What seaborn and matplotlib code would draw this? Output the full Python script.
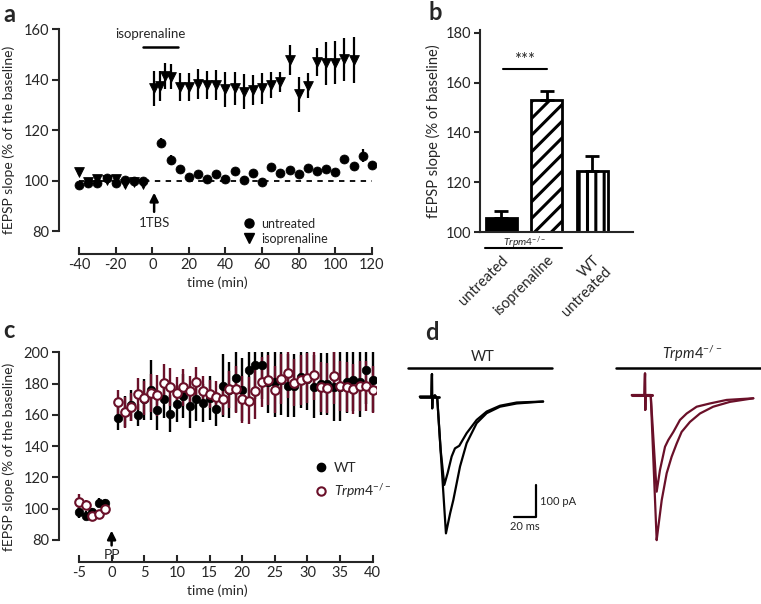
import numpy as np
import pandas as pd
import matplotlib
matplotlib.use('Agg')
import matplotlib.pyplot as plt
from matplotlib.lines import Line2D
import seaborn as sns

sns.set_style('ticks')
plt.rcParams['font.family'] = ['Lato', 'DejaVu Sans']
plt.rcParams['mathtext.fontset'] = 'custom'
plt.rcParams['mathtext.rm'] = 'Lato'
plt.rcParams['mathtext.it'] = 'Lato:italic'
plt.rcParams['hatch.linewidth'] = 2.2
plt.rcParams['axes.unicode_minus'] = False

MAROON = '#6a1029'
W, H = 761, 604

# ---- panel a: Trpm4-/- LTP, untreated vs isoprenaline ----
a_untreated_t = [-40, -35, -30, -25, -20, -15, -10, -5, 5, 10, 15, 20, 25, 30, 35, 40,
                 45, 50, 55, 60, 65, 70, 75, 80, 85, 90, 95, 100, 105, 110, 115, 120]
a_untreated_val = [98.1, 99.1, 99.0, 100.9, 99.2, 100.4, 100.0, 100.0, 114.9, 108.0, 104.5,
                   101.4, 102.5, 100.5, 102.4, 100.8, 103.8, 100.4, 103.0, 99.5, 105.4, 102.8,
                   104.1, 102.5, 105.0, 103.7, 104.7, 103.4, 108.7, 105.7, 109.8, 106.3]
a_untreated_err = [1.0, 0.8, 1.0, 1.0, 1.0, 1.0, 0.8, 0.8, 1.8, 2.0, 1.2, 1.0, 1.0, 1.0, 1.0,
                   1.5, 1.2, 1.5, 1.0, 1.5, 1.0, 1.0, 1.0, 1.0, 1.0, 1.0, 1.0, 1.0, 1.2, 1.2, 2.5, 1.0]
a_iso_t = [-40, -35, -30, -25, -20, -15, -10, -5, 1, 4, 7, 10, 15, 20, 25, 30, 35, 40, 45, 50,
           55, 60, 65, 70, 75, 80, 85, 90, 95, 100, 105, 110]
a_iso_val = [103.2, 99.5, 100.8, 100.3, 100.8, 98.6, 99.6, 98.8, 136.5, 137.4, 141.4, 141.1,
             137.1, 137.1, 138.2, 137.8, 137.8, 136.1, 136.5, 135.2, 135.8, 136.5, 137.8, 139.1,
             147.7, 134.2, 137.5, 147.0, 146.4, 146.6, 148.0, 147.7]
a_iso_err = [1.0, 1.0, 1.0, 1.0, 1.0, 1.5, 1.0, 1.0, 7.0, 6.0, 5.0, 5.0, 5.5, 5.5, 6.0, 5.5,
             6.0, 7.0, 6.5, 7.0, 6.0, 6.0, 5.0, 4.0, 6.0, 7.0, 5.0, 5.5, 8.5, 8.5, 8.5, 9.0]

# ---- panel b: bar summary ----
b_groups = ['untreated', 'isoprenaline', 'WT\nuntreated']
b_mean = [105.6, 153.0, 124.6]
b_sem = [2.9, 3.8, 6.0]

# ---- panel c: WT vs Trpm4-/- ----
c_t = [-5, -4, -3, -2, -1] + list(range(1, 41))
c_wt = [98.1, 95.6, 97.7, 103.9, 103.5,
        158.2, 162.0, 166.0, 160.1, 170.0, 175.9, 163.1, 169.9, 160.8, 167.2,
        172.1, 165.9, 170.1, 167.6, 170.8, 163.9, 178.7, 176.0, 183.6, 176.1,
        188.7, 192.1, 192.1, 181.0, 180.8, 182.0, 178.7, 178.7, 184.2, 183.0,
        178.0, 179.7, 179.7, 178.0, 178.0, 181.2, 182.3, 180.8, 188.7, 182.1]
c_wt_err = [4, 3, 3, 3, 3,
            8, 10, 10, 7, 13, 19, 13, 12, 12, 12, 14, 14, 14, 12, 14, 11, 20, 18, 22, 20,
            22, 22, 22, 20, 22, 22, 20, 20, 20, 20, 20, 20, 20, 22, 22, 20, 20, 22, 22, 20]
c_ko = [104.1, 102.6, 95.4, 96.4, 99.8,
        168.0, 161.6, 164.8, 173.3, 170.8, 174.0, 172.5, 180.4, 177.8, 174.0,
        177.6, 175.0, 180.8, 175.0, 173.3, 171.6, 170.1, 176.3, 176.5, 169.9,
        168.9, 175.3, 180.8, 182.3, 176.1, 183.2, 186.6, 180.4, 182.3, 183.6,
        185.7, 178.0, 177.0, 184.8, 178.7, 178.0, 176.5, 178.7, 178.7, 176.1]
c_ko_err = [5, 3, 3, 3, 3,
            8, 10, 9, 10, 11, 12, 13, 12, 12, 10, 12, 10, 10, 10, 9, 10, 10, 12, 15, 15,
            15, 18, 16, 16, 15, 16, 16, 15, 16, 16, 16, 16, 16, 18, 16, 16, 16, 16, 16, 15]

# ---- panel d: example EPSC traces (ms, pA) ----
d_wt_big_t = [-11, -0.5, 0, 0.2, 0.5, 2.7, 4.8, 8.8, 12.7, 16.5, 19.4, 25.5, 31.5, 40.6, 49.7, 61.8, 77, 101]
d_wt_big_i = [0, 0, 70, -36, 0, 4, -5, -216, -423, -361, -320, -216, -144, -82, -51, -31, -21, -15]
d_wt_small_t = [-11, -0.5, 0, 0.2, 0.5, 2.7, 4.8, 7.9, 11.2, 14.2, 17.9, 20.9, 24.8, 31.5, 40.6, 49.7, 61.8, 77, 101]
d_wt_small_i = [0, 0, 70, -36, 0, 4, -5, -165, -273, -237, -185, -160, -152, -113, -72, -46, -28, -18, -15]
d_ko_big_t = [-12, -0.5, 0, 0.2, 0.5, 5.2, 10.6, 12.1, 15.2, 19.7, 24.2, 28.8, 33.3, 40.9, 50, 62, 77.3, 98.5]
d_ko_big_i = [0, 0, 67, -46, 0, 0, -449, -408, -325, -242, -191, -150, -114, -83, -57, -36, -21, -10]
d_ko_small_t = [-12, -0.5, 0, 0.2, 0.5, 5.2, 10.6, 13.6, 18.2, 21.2, 25.8, 31.8, 37.9, 47, 59, 74.3, 98.5]
d_ko_small_i = [0, 0, 67, -46, 0, 0, -299, -232, -160, -139, -114, -77, -57, -36, -26, -15, -10]

KO_MATH = r'$\mathit{Trpm4}^{-/-}$'
ARROW = dict(arrowstyle='-|>,head_width=0.25,head_length=0.5', color='k', lw=1.8,
             shrinkA=0, shrinkB=0)


def px_axes(fig, left, top, right, bottom):
    return fig.add_axes([left / W, 1 - bottom / H, (right - left) / W, (bottom - top) / H])


fig = plt.figure(figsize=(W / 100, H / 100), dpi=100)
fig.patch.set_facecolor('white')

# ================= panel a =================
ax = px_axes(fig, 59, 25, 375.5, 254)
ax.set_xlim(-51, 122)
ax.set_ylim(70.9, 161.6)
ax.axhline(100, xmin=(-40 + 51) / 173, xmax=(120 + 51) / 173, color='k', ls=(0, (3, 3)), lw=1.3)
ax.errorbar(a_iso_t, a_iso_val, yerr=a_iso_err, fmt='none', ecolor='k', elinewidth=1.6, capsize=0)
ax.errorbar(a_untreated_t, a_untreated_val, yerr=a_untreated_err, fmt='none', ecolor='k',
            elinewidth=1.6, capsize=0)
df_a_iso = pd.DataFrame({'t': a_iso_t, 'v': a_iso_val})
df_a_unt = pd.DataFrame({'t': a_untreated_t, 'v': a_untreated_val})
sns.scatterplot(data=df_a_iso, x='t', y='v', marker='v', s=50, color='k', edgecolor='k', ax=ax, zorder=3)
sns.scatterplot(data=df_a_unt, x='t', y='v', marker='o', s=42, color='k', edgecolor='k', ax=ax, zorder=4)
ax.plot([-5, 14], [153, 153], color='k', lw=1.8)
ax.text(-1, 155.5, 'isoprenaline', ha='center', va='bottom', fontsize=9.5)
ax.annotate('', xy=(1, 95.2), xytext=(1, 87.6), arrowprops=ARROW)
ax.text(1, 83, '1TBS', ha='center', va='center', fontsize=9.5)
handles = [Line2D([], [], marker='o', ls='none', color='k', markersize=6.5),
           Line2D([], [], marker='v', ls='none', color='k', markersize=6.5)]
ax.legend(handles, ['untreated', 'isoprenaline'], loc='center left', bbox_to_anchor=(0.545, 0.1),
          frameon=False, fontsize=9, handlelength=1.0, handletextpad=0.5, labelspacing=0.25)
for s in ['top', 'right']:
    ax.spines[s].set_visible(False)
ax.spines['left'].set_bounds(80, 160)
ax.spines['bottom'].set_bounds(-40, 120)
ax.spines['left'].set_linewidth(1.5)
ax.spines['bottom'].set_linewidth(1.5)
ax.set_yticks([80, 100, 120, 140, 160])
ax.set_xticks(range(-40, 121, 20))
ax.tick_params(axis='y', direction='out', length=5, width=1.5, labelsize=10.5, pad=2)
ax.tick_params(axis='x', direction='in', length=5, width=1.5, labelsize=10.5, pad=3)
ax.set_xlabel('time (min)', fontsize=10, labelpad=3)
ax.set_ylabel('fEPSP slope (% of the baseline)', fontsize=10, labelpad=6)
fig.text(3 / W, 1 - 14 / H, 'a', fontsize=17, fontweight='bold', va='center', ha='left')

# ================= panel b =================
axb = px_axes(fig, 480, 30.2, 633, 232.3)
df_b = pd.DataFrame({'group': b_groups, 'mean': b_mean})
sns.barplot(data=df_b, x='group', y='mean', order=b_groups, width=0.68, ax=axb,
            color='white', edgecolor='k', linewidth=2, errorbar=None)
axb.set_ylim(100, 181)
axb.set_xlim(-0.47, 2.89)
bars = axb.patches
bars[0].set_facecolor('k')
bars[1].set_facecolor('white')
bars[1].set_hatch('//')
bars[2].set_facecolor('white')
bars[2].set_hatch('||')
axb.errorbar(range(len(b_groups)), b_mean, yerr=[[0] * len(b_sem), b_sem], fmt='none',
             ecolor='k', elinewidth=2, capsize=5, capthick=2)
axb.plot([0.03, 1.0], [165.3, 165.3], color='k', lw=1.5)
axb.text(0.5, 166.0, '***', ha='center', va='bottom', fontsize=12)
axb.text(0.5, 95.8, KO_MATH, ha='center', va='center', fontsize=7.5, clip_on=False)
axb.plot([-0.36, 1.33], [93.6, 93.6], color='k', lw=1.5, clip_on=False)
for s in ['top', 'right']:
    axb.spines[s].set_visible(False)
axb.spines['left'].set_linewidth(1.5)
axb.spines['bottom'].set_linewidth(1.5)
axb.set_yticks([100, 120, 140, 160, 180])
axb.tick_params(axis='y', direction='out', length=4, width=1.5, labelsize=10.5, pad=2)
axb.tick_params(axis='x', length=0, pad=15, labelsize=10.5)
for lab in axb.get_xticklabels():
    lab.set_rotation(45)
    lab.set_ha('right')
    lab.set_rotation_mode('anchor')
    lab.set_multialignment('right')
axb.set_xlabel('')
axb.set_ylabel('fEPSP slope (% of baseline)', fontsize=10.5, labelpad=4)
fig.text(428 / W, 1 - 13 / H, 'b', fontsize=17, fontweight='bold', va='center', ha='left')

# ================= panel c =================
axc = px_axes(fig, 59, 352.3, 376, 561.7)
axc.set_xlim(-8.06, 40.5)
axc.set_ylim(66.1, 200)
axc.errorbar(c_t, c_wt, yerr=c_wt_err, fmt='none', ecolor='k', elinewidth=1.7, capsize=0)
axc.errorbar(c_t, c_ko, yerr=c_ko_err, fmt='none', ecolor=MAROON, elinewidth=1.7, capsize=0)
df_c = pd.DataFrame({'t': c_t, 'wt': c_wt, 'ko': c_ko})
sns.scatterplot(data=df_c, x='t', y='wt', marker='o', s=38, color='k', edgecolor='k', ax=axc, zorder=3)
sns.scatterplot(data=df_c, x='t', y='ko', marker='o', s=38, color='white', edgecolor=MAROON,
                linewidth=1.5, ax=axc, zorder=4)
axc.annotate('', xy=(0, 86.0), xytext=(0, 76.5), arrowprops=ARROW, annotation_clip=False)
axc.text(0, 70.6, 'PP', ha='center', va='center', fontsize=10)
handles = [Line2D([], [], marker='o', ls='none', color='k', markersize=6),
           Line2D([], [], marker='o', ls='none', markerfacecolor='white', markeredgecolor=MAROON,
                  markeredgewidth=1.5, markersize=6)]
axc.legend(handles, ['WT', KO_MATH], loc='center left', bbox_to_anchor=(0.77, 0.385),
           frameon=False, fontsize=10, handlelength=0.8, handletextpad=0.5, labelspacing=0.6)
for s in ['top', 'right']:
    axc.spines[s].set_visible(False)
axc.spines['left'].set_bounds(80, 200)
axc.spines['bottom'].set_bounds(-5, 40)
axc.spines['left'].set_linewidth(1.5)
axc.spines['bottom'].set_linewidth(1.5)
axc.set_yticks(range(80, 201, 20))
axc.set_xticks(range(-5, 41, 5))
axc.tick_params(axis='y', direction='out', length=5, width=1.5, labelsize=10.5, pad=2)
axc.tick_params(axis='x', direction='in', length=5, width=1.5, labelsize=10.5, pad=3)
axc.set_xlabel('time (min)', fontsize=10, labelpad=3)
axc.set_ylabel('fEPSP slope (% of the baseline)', fontsize=10, labelpad=6)
fig.text(3 / W, 1 - 330 / H, 'c', fontsize=17, fontweight='bold', va='center', ha='left')

# ================= panel d =================
df_wt_big = pd.DataFrame({'t': d_wt_big_t, 'i': d_wt_big_i})
df_wt_small = pd.DataFrame({'t': d_wt_small_t, 'i': d_wt_small_i})
df_ko_big = pd.DataFrame({'t': d_ko_big_t, 'i': d_ko_big_i})
df_ko_small = pd.DataFrame({'t': d_ko_small_t, 'i': d_ko_small_i})

axd1 = px_axes(fig, 405, 355, 555, 545)
axd1.set_xlim(-24.5, 111.8)
axd1.set_ylim(-459, 129)
for df in [df_wt_big, df_wt_small]:
    sns.lineplot(data=df, x='t', y='i', sort=False, estimator=None, color='k', lw=1.6, ax=axd1)
axd1.plot([-11, 6], [0, 0], color='k', lw=2)
axd1.plot([0.02, 0.98], [0.93, 0.93], color='k', lw=1.8, transform=axd1.transAxes, clip_on=False)
axd1.text(0.52, 0.955, 'WT', ha='center', va='bottom', fontsize=10.5, transform=axd1.transAxes)
# scale bar
axd1.plot([74.5, 94.5, 94.5], [-373, -373, -273], color='k', lw=1.6)
axd1.text(98, -323, '100 pA', ha='left', va='center', fontsize=8)
axd1.text(84.5, -385, '20 ms', ha='center', va='top', fontsize=8)
axd1.axis('off')

axd2 = px_axes(fig, 615, 355, 761, 545)
axd2.set_xlim(-27.3, 105.5)
axd2.set_ylim(-464, 124)
for df in [df_ko_big, df_ko_small]:
    sns.lineplot(data=df, x='t', y='i', sort=False, estimator=None, color=MAROON, lw=1.6, ax=axd2)
axd2.plot([-12, 6], [0, 0], color=MAROON, lw=2.2)
axd2.plot([0.01, 1.0], [0.93, 0.93], color='k', lw=1.8, transform=axd2.transAxes, clip_on=False)
axd2.text(0.53, 0.955, KO_MATH, ha='center', va='bottom', fontsize=10.5, transform=axd2.transAxes)
axd2.axis('off')
fig.text(425 / W, 1 - 332 / H, 'd', fontsize=17, fontweight='bold', va='center', ha='left')

fig.savefig('out.png', dpi=100, facecolor='white')
